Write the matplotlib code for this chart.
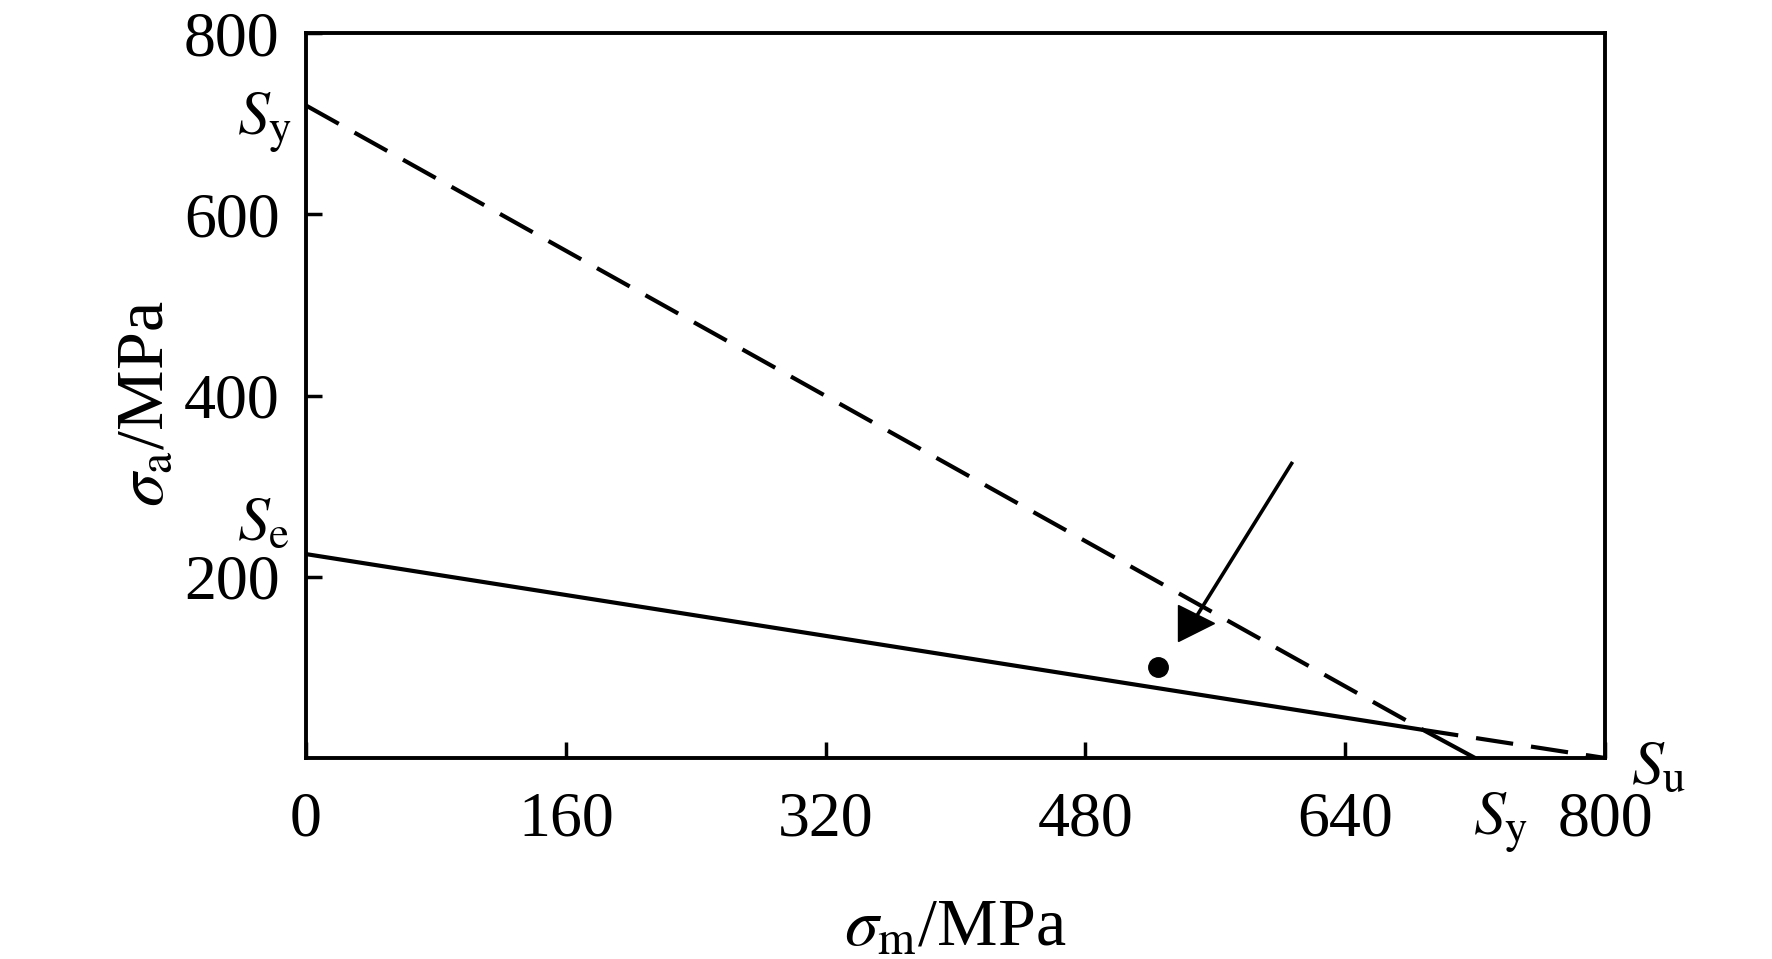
import numpy as np
import matplotlib
matplotlib.use("Agg")
import matplotlib.pyplot as plt

plt.rcParams['font.family'] = ['Liberation Serif', 'DejaVu Serif']
plt.rcParams['mathtext.fontset'] = 'stix'
plt.rcParams['lines.scale_dashes'] = False

# ---- data (MPa) ----
x_ticks = [0, 160, 320, 480, 640, 800]
y_ticks = [200, 400, 600, 800]
x_ticklabels = ['0', '160', '320', '480', '640', '800']
y_ticklabels = ['200', '400', '600', '800']

# solid: Goodman line up to the crossing, then yield (Langer) line down to Sy
solid_x = [0, 688, 720]
solid_y = [225, 31, 0]
# dashed: yield line from Sy down to the crossing, then Goodman line to Su
dashed_x = [0, 688, 800]
dashed_y = [720, 31, 0]

# working point and arrow
point_x = [525]
point_y = [100]
arrow_x = [607, 549]
arrow_y = [325, 158]
head_x = [548]
head_y = [149.5]

fig = plt.figure(figsize=(17.72, 9.59), dpi=100)
ax = fig.add_axes([306/1772, 1 - 758/959, 1299/1772, 725/959])

ax.plot(solid_x, solid_y, color='black', lw=3.0, solid_capstyle='butt')
ax.plot(dashed_x, dashed_y, color='black', lw=3.0, dashes=(27, 13), dash_capstyle='butt')
ax.plot(point_x, point_y, 'o', color='black', ms=14)
ax.plot(arrow_x, arrow_y, color='black', lw=2.6)
ax.plot(head_x, head_y, '>', color='black', ms=26, mew=1)

ax.set_xlim(0, 800)
ax.set_ylim(0, 800)

for sp in ax.spines.values():
    sp.set_linewidth(2.8)

ax.set_xticks(x_ticks)
ax.set_xticklabels(x_ticklabels)
ax.set_yticks(y_ticks)
ax.set_yticklabels(y_ticklabels)
ax.tick_params(direction='in', length=11.5, width=2.5, labelsize=46)
ax.tick_params(axis='x', pad=24)
ax.tick_params(axis='y', pad=19)

ax.set_xlabel(r'$\sigma_\mathrm{m}$/MPa', fontsize=49)
ax.xaxis.set_label_coords(0.5, -0.193)
ax.set_ylabel(r'$\sigma_\mathrm{a}$/MPa', fontsize=49, va='center')
ax.yaxis.set_label_coords(-0.123, 0.488)

# strength markers
ax.text(-8.6, 737, r'$S_\mathrm{y}$', fontsize=46, ha='right', va='top', clip_on=False)
ax.text(-9.9, 290, r'$S_\mathrm{e}$', fontsize=46, ha='right', va='top', clip_on=False)
ax.text(736, -0.045, r'$S_\mathrm{y}$', fontsize=46, ha='center', va='top',
        transform=ax.get_xaxis_transform(), clip_on=False)
ax.text(816, 20, r'$S_\mathrm{u}$', fontsize=46, ha='left', va='top', clip_on=False)

fig.savefig('out.png', dpi=100)
